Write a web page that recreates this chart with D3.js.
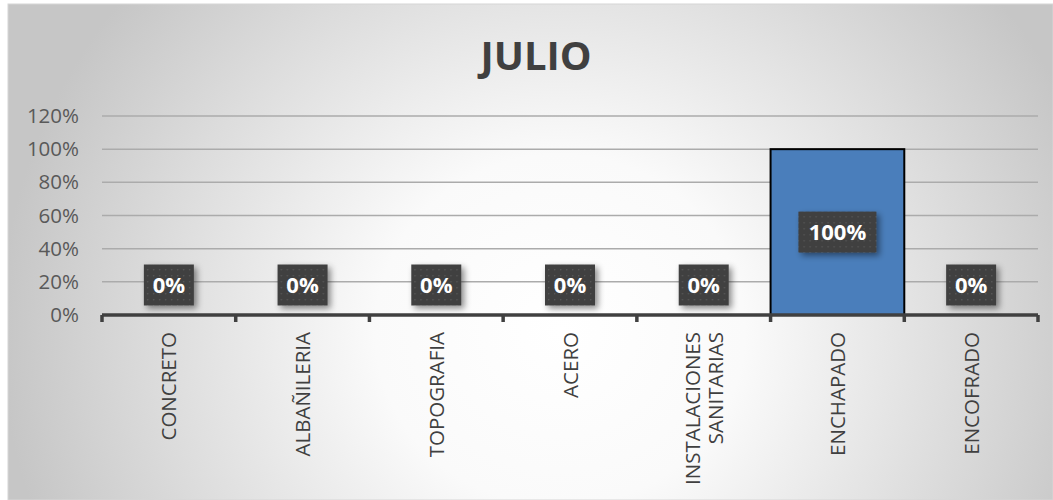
<!DOCTYPE html>
<html>
<head>
<meta charset="utf-8">
<script src="https://cdn.jsdelivr.net/npm/d3@7"></script>
<style>
  html, body { margin: 0; padding: 0; background: #ffffff; }
  svg { display: block; }
</style>
</head>
<body>
<svg id="chart" width="1053" height="500"></svg>
<script>
// Chart data
const title = "JULIO";
const categories = ["CONCRETO", "ALBAÑILERIA", "TOPOGRAFIA", "ACERO", "INSTALACIONES\nSANITARIAS", "ENCHAPADO", "ENCOFRADO"];
const values = [0, 0, 0, 0, 0, 1, 0];
const yTicks = [0, 0.2, 0.4, 0.6, 0.8, 1.0, 1.2];

const W = 1053, H = 500;
const margin = { left: 102, right: 15, top: 116, bottom: 185 };

const svg = d3.select("#chart");
const defs = svg.append("defs");

// Soft radial background
const bg = defs.append("radialGradient")
  .attr("id", "bgGrad")
  .attr("gradientUnits", "userSpaceOnUse")
  .attr("cx", 560).attr("cy", 330).attr("r", 560)
  .attr("gradientTransform", "translate(560,330) scale(1,0.95) translate(-560,-330)");
bg.append("stop").attr("offset", 0).attr("stop-color", "#ffffff");
bg.append("stop").attr("offset", 0.33).attr("stop-color", "#fafafa");
bg.append("stop").attr("offset", 0.72).attr("stop-color", "#dcdcdc");
bg.append("stop").attr("offset", 1).attr("stop-color", "#c6c6c6");

// Dotted texture for the label boxes
const pat = defs.append("pattern")
  .attr("id", "dots").attr("patternUnits", "userSpaceOnUse")
  .attr("width", 6).attr("height", 6);
pat.append("rect").attr("width", 6).attr("height", 6).attr("fill", "#3f3f3f");
pat.append("rect").attr("x", 2).attr("y", 2).attr("width", 1.4).attr("height", 1.4).attr("fill", "#575757");

// Drop shadow
const sh = defs.append("filter").attr("id", "shadow")
  .attr("x", "-30%").attr("y", "-30%").attr("width", "170%").attr("height", "170%");
sh.append("feDropShadow").attr("dx", 3).attr("dy", 3).attr("stdDeviation", 3)
  .attr("flood-color", "#000").attr("flood-opacity", 0.45);

// Chart area
svg.append("rect")
  .attr("x", 8).attr("y", 4).attr("width", W - 8).attr("height", H - 4)
  .attr("fill", "url(#bgGrad)")
  .attr("stroke", "#d6d6d6").attr("stroke-width", 1);

// Title
svg.append("text")
  .attr("x", 536).attr("y", 70)
  .attr("text-anchor", "middle")
  .attr("font-family", "'Open Sans', sans-serif")
  .attr("font-weight", 700)
  .attr("font-size", 40)
  .attr("fill", "#404040")
  .text(title);

// Scales
const x = d3.scaleBand()
  .domain(categories)
  .range([margin.left, W - margin.right])
  .paddingInner(0).paddingOuter(0);

const y = d3.scaleLinear()
  .domain([0, 1.2])
  .range([H - margin.bottom, margin.top]);

// Gridlines
svg.append("g")
  .selectAll("line")
  .data(yTicks.filter(t => t > 0))
  .join("line")
  .attr("x1", margin.left).attr("x2", W - margin.right)
  .attr("y1", d => y(d)).attr("y2", d => y(d))
  .attr("stroke", "#ababab").attr("stroke-width", 1.5);

// Y axis labels
const yAxis = d3.axisLeft(y)
  .tickValues(yTicks)
  .tickFormat(d3.format(".0%"))
  .tickSize(0)
  .tickPadding(23);
const gy = svg.append("g")
  .attr("transform", `translate(${margin.left},0)`)
  .call(yAxis);
gy.select(".domain").remove();
gy.selectAll("text")
  .attr("font-family", "'Open Sans', sans-serif")
  .attr("font-size", 20.5)
  .attr("fill", "#595959");

// Bars
svg.append("g")
  .selectAll("rect")
  .data(categories.map((c, i) => ({ c, v: values[i] })).filter(d => d.v > 0))
  .join("rect")
  .attr("x", d => x(d.c))
  .attr("y", d => y(d.v))
  .attr("width", x.bandwidth())
  .attr("height", d => y(0) - y(d.v))
  .attr("fill", "#4a7ebb")
  .attr("stroke", "#000000")
  .attr("stroke-width", 2);

// X axis line with category boundary ticks
const xAxis = d3.axisBottom(x).tickSize(0).tickFormat("");
const gx = svg.append("g")
  .attr("transform", `translate(0,${y(0)})`)
  .call(xAxis);
gx.select(".domain")
  .attr("d", `M${margin.left},0H${W - margin.right}`)
  .attr("stroke", "#404040").attr("stroke-width", 3.5);
gx.selectAll(".tick").remove();
const bounds = categories.map(c => x(c)).concat([x(categories[categories.length - 1]) + x.bandwidth()]);
gx.selectAll("line.bound")
  .data(bounds)
  .join("line")
  .attr("class", "bound")
  .attr("x1", d => d).attr("x2", d => d)
  .attr("y1", 0).attr("y2", 7)
  .attr("stroke", "#404040").attr("stroke-width", 3.5);

// Category labels (rotated)
const catG = svg.append("g");
categories.forEach(c => {
  const lines = c.split("\n");
  const cx = x(c) + x.bandwidth() / 2;
  const lh = 23;
  const t = catG.append("text")
    .attr("transform", `translate(${cx},332) rotate(-90)`)
    .attr("text-anchor", "end")
    .attr("font-family", "'Open Sans', sans-serif")
    .attr("font-size", 20.5)
    .attr("fill", "#404040");
  lines.forEach((ln, i) => {
    t.append("tspan")
      .attr("x", 0)
      .attr("y", (i - (lines.length - 1) / 2) * lh + 7.5)
      .text(ln);
  });
});

// Value labels
const fmt = d3.format(".0%");
const lblG = svg.append("g");
categories.forEach((c, i) => {
  const v = values[i];
  const cx = x(c) + x.bandwidth() / 2;
  const cy = Math.min((y(0) + y(v)) / 2, y(0) - 30);
  const g = lblG.append("g").attr("transform", `translate(${cx},${cy})`);
  const txt = fmt(v);
  const bw = txt.length * 14 + 22;
  g.append("rect")
    .attr("x", -bw / 2).attr("y", -20.5)
    .attr("width", bw).attr("height", 41)
    .attr("fill", "url(#dots)")
    .attr("filter", "url(#shadow)");
  g.append("text")
    .attr("text-anchor", "middle")
    .attr("y", 8)
    .attr("font-family", "'Open Sans', sans-serif")
    .attr("font-weight", 700)
    .attr("font-size", 22)
    .attr("fill", "#ffffff")
    .text(txt);
});
</script>
</body>
</html>
